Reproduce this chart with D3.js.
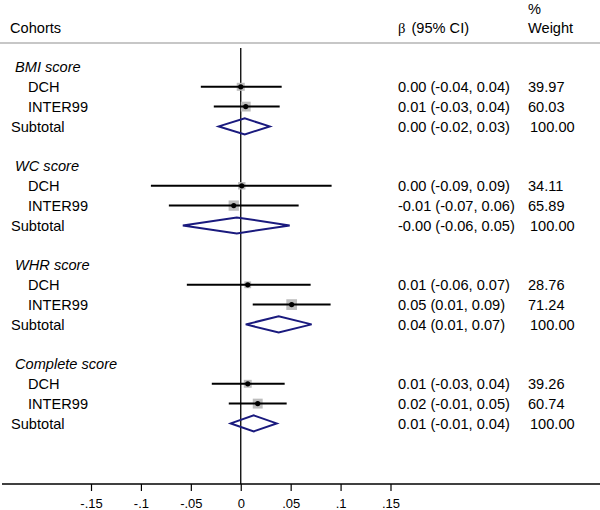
<!DOCTYPE html>
<html>
<head>
<meta charset="utf-8">
<script src="https://cdn.jsdelivr.net/npm/d3@7"></script>
<style>
  body { margin: 0; background: #fff; }
  svg { font-family: "Liberation Sans", Arial, sans-serif; }
</style>
</head>
<body>
<svg width="600" height="510"></svg>
<script>
// data
var groups = ["BMI score", "WC score", "WHR score", "Complete score"];
var cohorts = ["DCH", "INTER99"];
var est = [[0.000, 0.005], [0.001, -0.007], [0.007, 0.051], [0.007, 0.017]];
var lo = [[-0.040, -0.027], [-0.090, -0.072], [-0.054, 0.012], [-0.029, -0.012]];
var hi = [[0.041, 0.039], [0.091, 0.058], [0.070, 0.090], [0.044, 0.046]];
var weights = [[39.97, 60.03], [34.11, 65.89], [28.76, 71.24], [39.26, 60.74]];
var subEst = [0.004, -0.004, 0.038, 0.013];
var subLo = [-0.022, -0.058, 0.005, -0.010];
var subHi = [0.029, 0.049, 0.071, 0.036];
var ciLabels = [
  ["0.00 (-0.04, 0.04)", "0.01 (-0.03, 0.04)", "0.00 (-0.02, 0.03)"],
  ["0.00 (-0.09, 0.09)", "-0.01 (-0.07, 0.06)", "-0.00 (-0.06, 0.05)"],
  ["0.01 (-0.06, 0.07)", "0.05 (0.01, 0.09)", "0.04 (0.01, 0.07)"],
  ["0.01 (-0.03, 0.04)", "0.02 (-0.01, 0.05)", "0.01 (-0.01, 0.04)"]
];
var weightLabels = [
  ["39.97", "60.03", "100.00"],
  ["34.11", "65.89", "100.00"],
  ["28.76", "71.24", "100.00"],
  ["39.26", "60.74", "100.00"]
];
var xTicks = [-0.15, -0.1, -0.05, 0, 0.05, 0.1, 0.15];
var tickLabels = ["-.15", "-.1", "-.05", "0", ".05", ".1", ".15"];

var svg = d3.select("svg");
var fs = 14.6;

var x = d3.scaleLinear().domain([-0.15, 0.15]).range([91, 390.5]);
var row = d3.scaleLinear().domain([0, 18]).range([67, 423.4]);
var side = d3.scaleSqrt().domain([0, 100]).range([0, 12.7]);

var axisY = 484;

// header
svg.append("text").attr("x", 10).attr("y", 33).attr("font-size", fs).text("Cohorts");
var ht = svg.append("text").attr("y", 33).attr("font-size", fs);
ht.append("tspan").attr("x", 398).attr("font-family", "Liberation Serif, serif").text("β");
ht.append("tspan").attr("x", 411.5).text("(95% CI)");
svg.append("text").attr("x", 528).attr("y", 14).attr("font-size", fs).text("%");
svg.append("text").attr("x", 528).attr("y", 33).attr("font-size", fs).text("Weight");

svg.append("line")
  .attr("x1", 0).attr("x2", 600).attr("y1", 43).attr("y2", 43)
  .attr("stroke", "#b4b4b4").attr("stroke-width", 1.5);

// zero line
svg.append("line")
  .attr("x1", x(0)).attr("x2", x(0)).attr("y1", 48).attr("y2", axisY)
  .attr("stroke", "#000").attr("stroke-width", 1.3);

// x axis
var ax = svg.append("g").attr("transform", "translate(0," + axisY + ")");
ax.append("line").attr("x1", 2).attr("x2", 600).attr("stroke", "#000").attr("stroke-width", 1.3);
ax.call(d3.axisBottom(x).tickValues(xTicks).tickSize(7).tickSizeOuter(0)
    .tickFormat(function(d, i) { return tickLabels[i]; }));
ax.select(".domain").remove();
ax.selectAll(".tick line").attr("stroke-width", 1.2);
ax.selectAll(".tick text")
  .attr("font-family", "Liberation Sans, Arial, sans-serif")
  .attr("font-size", 13).attr("y", 24).attr("dy", 0);

groups.forEach(function(gname, gi) {
  var base = gi * 5;

  svg.append("text")
    .attr("x", 15).attr("y", row(base)).attr("dy", "0.35em")
    .attr("font-size", fs).attr("font-style", "italic").text(gname);

  cohorts.forEach(function(c, ci) {
    var yy = row(base + 1 + ci);
    svg.append("text")
      .attr("x", 28).attr("y", yy).attr("dy", "0.35em")
      .attr("font-size", fs).text(c);

    var s = side(weights[gi][ci]);
    svg.append("rect")
      .attr("x", x(est[gi][ci]) - s / 2).attr("y", yy - s / 2)
      .attr("width", s).attr("height", s)
      .attr("fill", "#bdbdbd");

    svg.append("line")
      .attr("x1", x(lo[gi][ci])).attr("x2", x(hi[gi][ci]))
      .attr("y1", yy).attr("y2", yy)
      .attr("stroke", "#000").attr("stroke-width", 2);

    svg.append("circle")
      .attr("cx", x(est[gi][ci])).attr("cy", yy).attr("r", 2.6)
      .attr("fill", "#000");

    svg.append("text")
      .attr("x", 398).attr("y", yy).attr("dy", "0.35em")
      .attr("font-size", fs).text(ciLabels[gi][ci]);
    svg.append("text")
      .attr("x", 528).attr("y", yy).attr("dy", "0.35em")
      .attr("font-size", fs).text(weightLabels[gi][ci]);
  });

  var ys = row(base + 3);
  svg.append("text")
    .attr("x", 11).attr("y", ys).attr("dy", "0.35em")
    .attr("font-size", fs).text("Subtotal");

  var h = 8;
  var pts = [
    [x(subLo[gi]), ys],
    [x(subEst[gi]), ys - h],
    [x(subHi[gi]), ys],
    [x(subEst[gi]), ys + h]
  ];
  svg.append("polygon")
    .attr("points", pts.map(function(p) { return p.join(","); }).join(" "))
    .attr("fill", "none").attr("stroke", "#1a1a7e").attr("stroke-width", 2);

  svg.append("text")
    .attr("x", 398).attr("y", ys).attr("dy", "0.35em")
    .attr("font-size", fs).text(ciLabels[gi][2]);
  svg.append("text")
    .attr("x", 530).attr("y", ys).attr("dy", "0.35em")
    .attr("font-size", fs).text(weightLabels[gi][2]);
});
</script>
</body>
</html>
